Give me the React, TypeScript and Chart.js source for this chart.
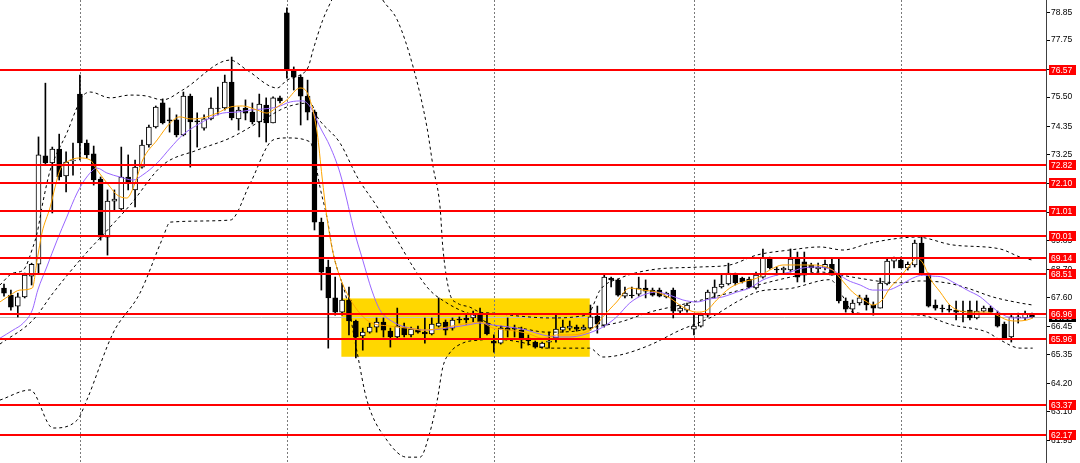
import React, { useEffect, useRef } from 'react';
import { Chart, registerables } from 'chart.js';

Chart.register(...registerables);

// ---- H4 candles (index 0..149) ----
const opens = [
  67.97, 67.69, 67.26, 67.62, 68.44, 68.91, 73.18, 72.90, 73.45, 72.39,
  72.98, 75.62, 73.69, 73.26, 72.27, 69.98, 71.40, 71.09, 72.35, 71.84,
  72.74, 73.61, 74.32, 75.27, 74.60, 74.60, 74.01, 75.54, 74.56, 74.28,
  74.64, 75.07, 75.07, 76.09, 74.64, 75.07, 74.91, 74.52, 75.19, 74.48,
  75.47, 78.82, 76.57, 76.29, 75.54, 74.91, 70.57, 68.80, 67.58, 67.02,
  67.50, 66.67, 66.08, 66.23, 66.43, 66.63, 66.27, 66.04, 66.43, 66.12,
  66.35, 66.23, 66.16, 66.47, 66.63, 66.39, 66.75, 66.79, 66.79, 66.94,
  66.59, 65.88, 65.80, 66.39, 66.39, 66.31, 66.00, 65.84, 65.64, 65.84,
  66.00, 66.31, 66.39, 66.43, 66.35, 66.39, 66.86, 66.51, 68.36, 68.29,
  67.65, 67.69, 67.73, 67.97, 67.89, 67.89, 67.62, 67.89, 67.06, 67.10,
  66.35, 66.47, 66.90, 67.77, 68.01, 68.13, 68.48, 68.36, 68.32, 67.97,
  68.40, 69.15, 68.72, 68.68, 68.68, 69.15, 69.00, 68.88, 68.72, 68.76,
  68.91, 68.52, 67.46, 67.14, 67.38, 67.58, 67.30, 67.18, 68.13, 69.03,
  69.07, 68.76, 68.88, 69.74, 68.52, 67.30, 67.18, 67.14, 67.10, 67.06,
  67.10, 66.79, 67.06, 67.18, 66.98, 66.55, 66.04, 66.79, 66.79, 66.94,
];
const highs = [
  68.13, 67.89, 67.77, 68.56, 68.95, 73.93, 76.05, 73.53, 74.04, 73.34,
  73.69, 76.37, 73.81, 73.57, 72.35, 71.84, 71.84, 73.53, 73.22, 73.02,
  73.81, 74.40, 75.15, 75.43, 75.07, 74.80, 75.70, 75.62, 74.88, 74.80,
  75.47, 75.90, 76.37, 77.08, 75.11, 75.39, 75.27, 75.62, 75.47, 75.51,
  75.54, 79.02, 76.69, 76.37, 76.17, 74.99, 70.73, 69.07, 68.40, 68.17,
  68.01, 66.71, 66.39, 66.59, 66.79, 66.79, 66.39, 67.18, 66.59, 66.43,
  66.47, 66.79, 66.79, 67.58, 66.71, 66.79, 66.83, 66.90, 67.06, 67.18,
  66.98, 66.12, 66.47, 66.79, 66.51, 66.43, 66.12, 65.88, 65.84, 66.23,
  66.90, 66.71, 66.67, 66.51, 66.51, 67.30, 67.26, 68.48, 68.40, 68.32,
  68.01, 68.01, 68.40, 68.29, 67.97, 67.97, 67.81, 67.97, 67.30, 67.38,
  66.90, 66.98, 67.89, 68.29, 68.48, 68.95, 68.56, 68.40, 68.40, 68.60,
  69.51, 69.19, 68.80, 68.80, 69.51, 69.39, 69.39, 68.95, 68.95, 69.07,
  69.15, 69.15, 67.58, 67.50, 67.69, 67.69, 67.42, 68.36, 69.15, 69.19,
  69.19, 69.00, 69.86, 69.98, 68.56, 67.50, 67.30, 67.30, 67.46, 67.46,
  67.46, 67.46, 67.26, 67.26, 67.06, 66.63, 66.90, 66.98, 67.06, 66.98,
];
const lows = [
  67.65, 67.10, 66.83, 67.58, 68.09, 68.56, 72.82, 70.93, 72.23, 71.76,
  72.42, 73.02, 73.10, 72.03, 69.86, 69.27, 71.05, 71.05, 71.84, 71.17,
  72.70, 73.53, 74.28, 74.44, 74.12, 73.93, 73.97, 72.74, 73.53, 74.20,
  74.60, 74.80, 74.99, 74.60, 74.20, 74.60, 74.44, 73.93, 73.73, 74.48,
  75.27, 76.25, 75.78, 74.40, 74.60, 70.26, 67.89, 65.60, 66.90, 66.90,
  66.12, 65.21, 65.52, 66.19, 66.23, 66.04, 65.64, 66.00, 66.04, 66.04,
  66.19, 65.80, 66.12, 66.43, 66.12, 66.31, 66.59, 66.55, 66.63, 66.00,
  66.12, 65.44, 65.76, 66.04, 66.04, 65.60, 65.72, 65.60, 65.60, 65.60,
  65.84, 66.23, 66.31, 66.27, 66.31, 66.31, 66.19, 66.43, 68.01, 67.65,
  67.58, 67.58, 67.65, 67.58, 67.65, 67.62, 67.58, 66.79, 66.98, 67.02,
  66.12, 66.43, 66.83, 67.58, 67.97, 68.09, 68.09, 68.17, 67.97, 67.93,
  68.36, 68.72, 68.48, 68.56, 68.60, 68.21, 68.21, 68.60, 68.60, 68.68,
  68.48, 67.38, 67.02, 66.94, 67.30, 67.10, 66.90, 67.18, 68.09, 68.76,
  68.76, 68.68, 68.80, 68.48, 67.22, 67.10, 67.02, 67.02, 66.71, 66.63,
  66.71, 66.75, 67.02, 66.98, 66.43, 66.00, 65.84, 66.59, 66.71, 66.79,
];
const closes = [
  67.77, 67.22, 67.62, 68.48, 68.91, 73.22, 72.90, 73.45, 72.35, 72.94,
  73.02, 73.69, 73.22, 72.23, 69.98, 71.40, 71.48, 72.35, 72.11, 72.74,
  73.61, 74.32, 75.11, 74.48, 74.56, 74.01, 75.54, 74.52, 74.52, 74.64,
  75.07, 75.05, 76.09, 74.68, 74.99, 74.87, 74.52, 75.23, 74.48, 75.47,
  75.35, 76.57, 76.29, 75.54, 74.91, 70.57, 68.60, 67.58, 67.02, 67.50,
  66.67, 66.04, 66.23, 66.43, 66.63, 66.31, 66.04, 66.47, 66.12, 66.35,
  66.23, 66.16, 66.55, 66.59, 66.31, 66.71, 66.71, 66.71, 66.94, 66.63,
  66.16, 65.80, 66.39, 66.31, 66.35, 65.92, 65.88, 65.64, 65.80, 65.88,
  66.35, 66.43, 66.47, 66.35, 66.43, 66.83, 66.55, 68.40, 68.29, 67.69,
  67.77, 67.67, 67.97, 67.85, 67.69, 67.65, 67.77, 67.06, 67.18, 67.30,
  66.47, 66.90, 67.81, 68.01, 68.13, 68.56, 68.17, 68.21, 68.01, 68.48,
  69.15, 68.76, 68.68, 68.76, 69.11, 68.40, 68.48, 68.76, 68.80, 68.91,
  68.48, 67.46, 67.14, 67.38, 67.58, 67.30, 67.18, 68.17, 69.03, 69.15,
  68.76, 68.91, 69.74, 68.52, 67.26, 67.18, 67.16, 67.10, 67.02, 67.04,
  66.79, 67.06, 67.18, 67.02, 66.47, 66.00, 66.83, 66.83, 66.94, 66.83,
];

// ---- indicator lines: [candle index, price] ----
const maFast: [number, number][] = [
  [-0.6, 67.42], [0.9, 67.69], [2.3, 67.89], [4.1, 67.97], [4.8, 69.07], [5.5, 70.14], [6.7, 71.17],
  [7.4, 71.95], [8.1, 72.62], [9.1, 72.94], [11.0, 73.10], [12.5, 73.02], [13.5, 72.62], [15.4, 71.95],
  [16.4, 71.64], [17.8, 71.52], [19.0, 72.11], [20.1, 73.02], [22.2, 73.81], [24.1, 74.48], [25.5, 74.72],
  [27.0, 74.64], [28.8, 74.68], [30.9, 74.87], [32.8, 75.11], [34.6, 75.15], [36.7, 74.99], [38.1, 74.87],
  [39.6, 75.11], [41.0, 75.39], [42.9, 75.86], [44.1, 75.58], [45.4, 74.08], [46.1, 72.35], [46.8, 70.77],
  [47.7, 69.35], [48.7, 68.40], [49.7, 67.77], [51.2, 67.10], [53.0, 66.63], [55.9, 66.47], [58.4, 66.39],
  [60.7, 66.31], [64.2, 66.43], [66.5, 66.55], [69.0, 66.63], [70.9, 66.39], [73.3, 66.31], [75.8, 66.19],
  [78.1, 65.99], [80.1, 66.12], [81.6, 66.12], [83.9, 66.19], [85.9, 66.51], [86.8, 66.83], [88.8, 67.42],
  [90.7, 67.97], [92.6, 67.89], [94.6, 67.81], [96.5, 67.58], [98.4, 67.22], [100.4, 67.02], [101.9, 67.10],
  [103.3, 67.50], [105.2, 67.97], [107.1, 68.21], [109.1, 68.36], [111.0, 68.68], [112.9, 68.88], [114.9, 68.88],
  [116.8, 68.88], [118.7, 68.84], [120.1, 68.68], [121.2, 68.36], [123.0, 67.81], [125.1, 67.42], [125.9, 67.30],
  [127.3, 67.50], [128.4, 67.97], [129.9, 68.40], [131.3, 68.88], [132.3, 69.15], [133.2, 68.95], [134.2, 68.36],
  [135.7, 67.81], [137.1, 67.30], [138.6, 67.06], [140.4, 67.02], [142.5, 67.02], [143.9, 66.90], [145.4, 66.71],
  [146.8, 66.67], [148.3, 66.71], [149.1, 66.79],
];
const maSlow: [number, number][] = [
  [-0.6, 65.99], [1.3, 66.31], [2.8, 66.59], [4.1, 67.10], [4.9, 67.89], [6.2, 68.80], [7.7, 69.86],
  [9.1, 70.77], [10.6, 71.72], [12.0, 72.35], [13.5, 72.70], [14.9, 72.51], [16.8, 72.35], [18.7, 72.23],
  [20.1, 72.43], [22.2, 72.90], [24.1, 73.49], [25.9, 74.01], [28.0, 74.40], [29.9, 74.68], [31.7, 74.87],
  [33.8, 74.91], [35.7, 74.99], [37.5, 75.03], [39.6, 75.11], [41.5, 75.31], [43.3, 75.35], [44.4, 75.11],
  [45.8, 74.32], [47.3, 73.53], [48.7, 72.51], [49.7, 71.44], [50.6, 70.38], [52.0, 69.07], [53.3, 67.89],
  [54.5, 67.10], [56.4, 66.63], [58.8, 66.39], [61.3, 66.31], [64.2, 66.39], [67.1, 66.51], [69.0, 66.59],
  [70.9, 66.51], [73.3, 66.43], [75.8, 66.31], [78.1, 66.12], [80.1, 66.04], [82.0, 66.04], [83.9, 66.12],
  [85.9, 66.31], [86.8, 66.43], [88.8, 66.83], [90.7, 67.38], [92.6, 67.69], [94.6, 67.81], [96.5, 67.69],
  [98.4, 67.50], [100.4, 67.42], [102.3, 67.54], [104.2, 67.62], [106.2, 67.81], [108.1, 67.97], [110.0, 68.29],
  [112.0, 68.48], [113.9, 68.60], [115.8, 68.76], [117.8, 68.80], [120.1, 68.68], [122.2, 68.29], [124.1, 68.09],
  [125.9, 67.89], [128.0, 67.89], [129.9, 68.09], [131.7, 68.36], [133.2, 68.48], [134.6, 68.44], [136.1, 68.40],
  [137.5, 68.21], [139.6, 67.89], [141.5, 67.62], [142.9, 67.30], [144.4, 66.98], [146.2, 66.79], [148.3, 66.79],
  [149.1, 66.83],
];
const bbUpper: [number, number][] = [
  [-0.6, 68.09], [1.3, 68.56], [2.8, 68.68], [4.2, 69.59], [4.8, 70.14], [5.7, 71.44], [6.7, 72.62],
  [7.7, 73.30], [9.1, 74.08], [10.6, 75.11], [11.3, 75.51], [12.5, 75.70], [15.4, 75.47], [18.3, 75.58],
  [20.5, 75.55], [23.0, 75.39], [25.9, 75.78], [32.8, 76.96], [35.2, 76.57], [39.6, 75.86], [41.0, 76.17],
  [42.9, 76.37], [44.1, 76.69], [44.8, 77.36], [46.2, 78.54], [47.5, 79.33], [48.5, 79.9], [50.0, 80.5],
  [51.5, 80.7], [53.0, 80.3], [54.9, 79.33], [57.0, 78.54], [59.3, 76.69], [61.3, 74.32], [62.2, 72.74],
  [63.2, 71.17], [63.6, 69.59], [64.6, 67.77], [65.7, 67.38], [67.5, 67.22], [69.0, 67.02], [70.9, 66.98],
  [74.8, 66.86], [79.1, 66.79], [83.5, 66.86], [84.9, 67.02], [86.4, 67.89], [89.3, 68.36], [93.6, 68.68],
  [100.9, 68.80], [105.2, 68.88], [109.1, 69.27], [113.9, 69.47], [118.3, 69.59], [121.6, 69.47], [125.5, 69.74],
  [129.9, 69.94], [132.3, 69.98], [137.5, 69.67], [144.4, 69.51], [147.3, 69.19], [149.1, 69.07],
];
const bbMiddle: [number, number][] = [
  [-0.6, 65.76], [4.2, 66.71], [7.1, 67.77], [11.0, 69.07], [15.4, 70.38], [18.3, 71.25], [23.0, 72.82],
  [28.0, 73.41], [32.8, 73.89], [37.5, 74.60], [41.0, 75.11], [44.4, 75.27], [45.4, 74.72], [48.7, 73.69],
  [51.2, 72.35], [54.1, 71.17], [57.0, 69.86], [59.3, 68.80], [61.7, 67.89], [64.2, 67.38], [66.1, 67.10],
  [68.0, 66.90], [70.9, 66.51], [74.8, 66.39], [78.7, 66.23], [82.8, 66.27], [84.9, 66.39], [89.3, 66.63],
  [93.6, 67.02], [98.0, 67.30], [102.3, 67.58], [106.7, 67.89], [111.0, 68.21], [115.4, 68.48], [118.3, 68.60],
  [123.0, 68.40], [128.0, 68.20], [129.9, 68.18], [132.8, 68.25], [136.7, 68.17], [139.6, 67.97], [143.3, 67.62],
  [147.3, 67.38], [149.1, 67.30],
];
const bbLower: [number, number][] = [
  [-0.6, 63.55], [3.8, 63.95], [7.1, 62.45], [10.6, 62.76], [12.0, 63.55], [15.8, 66.19], [19.7, 67.77],
  [23.0, 69.94], [24.1, 70.57], [32.8, 70.65], [35.7, 72.11], [39.0, 73.81], [41.0, 73.89], [44.4, 73.73],
  [44.8, 73.41], [45.8, 71.95], [46.8, 70.77], [47.7, 69.35], [49.7, 67.50], [51.2, 65.41], [52.6, 63.55],
  [55.5, 61.97], [58.4, 61.30], [60.3, 61.30], [61.7, 62.25], [62.8, 63.55], [63.6, 64.85], [64.6, 65.41],
  [66.5, 65.80], [69.0, 65.92], [70.9, 65.96], [74.8, 65.84], [78.7, 65.60], [84.9, 65.60], [86.8, 65.25],
  [89.3, 65.33], [93.6, 65.72], [98.0, 66.31], [102.3, 66.79], [106.7, 67.50], [109.6, 67.85], [113.9, 67.95],
  [119.7, 68.30], [121.9, 67.50], [123.0, 67.02], [127.0, 66.94], [132.8, 66.90], [137.5, 66.51], [142.5, 66.23],
  [144.4, 65.92], [147.3, 65.60], [149.1, 65.60],
];

// ---- horizontal levels, axis ticks, week separators, zone ----
const levels = [76.57, 72.82, 72.10, 71.01, 70.01, 69.14, 68.51, 66.96, 65.96, 63.37, 62.17];
const yTicks = [78.85, 77.75, 76.60, 75.50, 74.35, 73.25, 72.10, 70.95, 69.85, 68.70, 67.60, 66.45, 65.35, 64.20, 63.10, 61.95];
const separators = [11, 41, 71, 100, 130];
const zoneX = [48.9, 84.9];
const zoneY = [65.26, 67.56];
const bidPrice = 66.83;

const Y_MIN = 61.07;
const Y_MAX = 79.33;
const X_MIN = -0.58;
const X_MAX = 151.03;

const FONT = "'Liberation Sans', Arial, sans-serif";

const overlayPlugin = {
  id: 'mt4overlay',
  beforeDraw(chart: any) {
    const { ctx, chartArea: a, scales } = chart;
    const x = scales.x;
    const y = scales.y;
    ctx.save();
    ctx.fillStyle = '#ffffff';
    ctx.fillRect(0, 0, chart.width, chart.height);
    // zone rectangle
    const x0 = x.getPixelForValue(zoneX[0]);
    const x1 = x.getPixelForValue(zoneX[1]);
    const y0 = y.getPixelForValue(zoneY[1]);
    const y1 = y.getPixelForValue(zoneY[0]);
    ctx.fillStyle = '#FFD700';
    ctx.fillRect(x0, y0, x1 - x0, y1 - y0);
    // separators
    ctx.strokeStyle = '#7a7a7a';
    ctx.lineWidth = 1;
    ctx.setLineDash([2, 2]);
    separators.forEach((i) => {
      const px = Math.round(x.getPixelForValue(i)) + 0.5;
      ctx.beginPath();
      ctx.moveTo(px, a.top);
      ctx.lineTo(px, a.bottom);
      ctx.stroke();
    });
    ctx.setLineDash([]);
    // bid line
    const by = Math.round(y.getPixelForValue(bidPrice)) + 0.5;
    ctx.strokeStyle = '#c0c0c0';
    ctx.beginPath();
    ctx.moveTo(a.left, by);
    ctx.lineTo(a.right, by);
    ctx.stroke();
    ctx.restore();
  },
  afterDatasetsDraw(chart: any) {
    const { ctx, chartArea: a, scales } = chart;
    const y = scales.y;
    ctx.save();
    ctx.strokeStyle = '#ff0000';
    ctx.lineWidth = 2;
    levels.forEach((v) => {
      const py = Math.round(y.getPixelForValue(v));
      ctx.beginPath();
      ctx.moveTo(a.left, py);
      ctx.lineTo(a.right, py);
      ctx.stroke();
    });
    ctx.restore();
  },
  afterDraw(chart: any) {
    const { ctx, chartArea: a, scales } = chart;
    const y = scales.y;
    ctx.save();
    ctx.font = `8.5px ${FONT}`;
    ctx.textBaseline = 'middle';
    ctx.textAlign = 'left';
    const box = (v: number, fill: string) => {
      const py = Math.round(y.getPixelForValue(v));
      ctx.fillStyle = fill;
      ctx.fillRect(a.right + 3, py - 5, 27, 10);
      ctx.fillStyle = '#ffffff';
      ctx.fillText(v.toFixed(2), a.right + 5, py + 0.5);
    };
    box(bidPrice, '#000000');
    levels.forEach((v) => box(v, '#ff0000'));
    ctx.restore();
  },
};

export default function App() {
  const ref = useRef<HTMLCanvasElement | null>(null);

  useEffect(() => {
    if (!ref.current) return;
    const idx = opens.map((_, i) => i);
    const wicks = idx.map((i) => ({ x: i, y: [lows[i], highs[i]] }));
    const bodies = idx.map((i) => ({ x: i, y: [opens[i], closes[i]] }));
    const bodyColors = idx.map((i) => (closes[i] > opens[i] ? '#ffffff' : '#000000'));
    const toPts = (arr: [number, number][]) => arr.map(([x, y]) => ({ x, y }));
    const dashed = (data: [number, number][]) => ({
      type: 'line' as const,
      data: toPts(data),
      borderColor: '#000000',
      borderWidth: 1,
      borderDash: [3, 3],
      pointRadius: 0,
      cubicInterpolationMode: 'monotone' as const,
      order: 0,
    });

    const chart = new Chart(ref.current, {
      type: 'bar',
      data: {
        datasets: [
          {
            type: 'line',
            data: toPts(maFast),
            borderColor: '#FFA500',
            borderWidth: 1,
            pointRadius: 0,
            cubicInterpolationMode: 'monotone',
            order: 0,
          } as any,
          {
            type: 'line',
            data: toPts(maSlow),
            borderColor: '#9966ff',
            borderWidth: 1,
            pointRadius: 0,
            cubicInterpolationMode: 'monotone',
            order: 0,
          } as any,
          dashed(bbUpper) as any,
          dashed(bbMiddle) as any,
          dashed(bbLower) as any,
          {
            type: 'bar',
            data: bodies,
            backgroundColor: bodyColors,
            borderColor: '#000000',
            borderWidth: 1,
            borderSkipped: false,
            barThickness: 5,
            grouped: false,
            order: 1,
          } as any,
          {
            type: 'bar',
            data: wicks,
            backgroundColor: '#000000',
            borderWidth: 0,
            barThickness: 1,
            grouped: false,
            order: 2,
          } as any,
        ],
      },
      options: {
        animation: false,
        responsive: false,
        devicePixelRatio: 1,
        events: [],
        layout: { padding: 0 },
        plugins: { legend: { display: false }, tooltip: { enabled: false } },
        scales: {
          x: {
            type: 'linear',
            min: X_MIN,
            max: X_MAX,
            offset: false,
            display: false,
          },
          y: {
            position: 'right',
            min: Y_MIN,
            max: Y_MAX,
            afterBuildTicks: (s: any) => {
              s.ticks = yTicks.map((v) => ({ value: v }));
            },
            afterFit: (s: any) => {
              s.width = 34;
              s.paddingTop = 0;
              s.paddingBottom = 0;
            },
            ticks: {
              autoSkip: false,
              padding: 1,
              color: '#000000',
              font: { family: FONT, size: 8.5 },
              callback: (v: any) => Number(v).toFixed(2),
            },
            grid: {
              drawOnChartArea: false,
              drawTicks: true,
              tickLength: 4,
              color: '#000000',
            },
            border: { display: true, color: '#404040' },
          },
        },
      } as any,
      plugins: [overlayPlugin],
    });
    return () => chart.destroy();
  }, []);

  return (
    <div style={{ position: 'fixed', left: 0, top: 0, width: 1080, height: 463, background: '#fff' }}>
      <canvas ref={ref} width={1080} height={463} style={{ display: 'block' }} />
    </div>
  );
}
